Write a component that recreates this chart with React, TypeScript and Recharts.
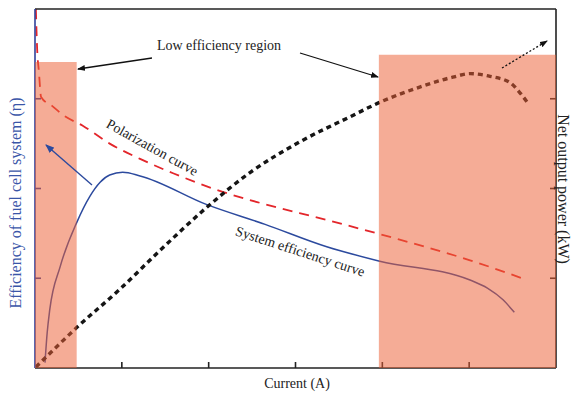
import React from "react";
import {
  LineChart,
  Line,
  XAxis,
  YAxis,
  ReferenceArea
} from "recharts";

// current (arbitrary units, axis 0..6) and curve values (axis 0..4)
const POL_I = [0.01, 0.025, 0.045, 0.07, 0.21, 0.32, 0.55, 0.86, 1.21, 1.59, 2.17, 2.59, 3.36, 4.2, 5.01, 5.61];
const POL_V = [4.0, 3.55, 3.3, 3.02, 2.91, 2.82, 2.7, 2.5, 2.33, 2.17, 1.96, 1.84, 1.65, 1.43, 1.2, 1.0];

const EFF_I = [0.115, 0.14, 0.17, 0.29, 0.48, 0.63, 0.75, 0.86, 1.01, 1.21, 1.98, 2.65, 3.36, 3.97, 5.01, 5.21, 5.39, 5.52];
const EFF_V = [0.06, 0.39, 0.65, 1.13, 1.62, 1.91, 2.07, 2.15, 2.18, 2.14, 1.82, 1.6, 1.35, 1.19, 0.98, 0.89, 0.76, 0.62];

const PWR_I = [0.01, 0.48, 0.98, 1.44, 1.99, 2.48, 3.05, 3.63, 3.97, 4.43, 4.81, 5.01, 5.24, 5.47, 5.59, 5.67];
const PWR_V = [0.01, 0.45, 0.88, 1.31, 1.8, 2.18, 2.52, 2.8, 2.96, 3.13, 3.24, 3.28, 3.25, 3.18, 3.06, 2.96];

const X_TICKS = [1, 2, 3, 4, 5];
const Y_TICKS = [1, 2, 3];

// low efficiency regions [from, to, top]
const LOW_LEFT = [0, 0.48, 3.41];
const LOW_RIGHT = [3.96, 6, 3.49];

const polarization = POL_I.map((x, i) => ({ x, y: POL_V[i] }));
const efficiency = EFF_I.map((x, i) => ({ x, y: EFF_V[i] }));
const power = PWR_I.map((x, i) => ({ x, y: PWR_V[i] }));

const FONT = "'Liberation Serif', 'DejaVu Serif', serif";
const BLUE = "#2c4a9e";
const AXIS_BLUE = "#30409a";
const noLabel = () => "";

// annotation layer drawn above the chart
const Notes = () => (
  <svg width={577} height={397} style={{ position: "absolute", left: 0, top: 0, pointerEvents: "none" }}>
    <defs>
      <marker id="headK" markerWidth="8" markerHeight="6" refX="7" refY="3" orient="auto" markerUnits="userSpaceOnUse">
        <path d="M0,0 L8,3 L0,6 Z" fill="#111" />
      </marker>
      <marker id="headB" markerWidth="9" markerHeight="7" refX="8" refY="3.5" orient="auto" markerUnits="userSpaceOnUse">
        <path d="M0,0 L9,3.5 L0,7 Z" fill={BLUE} />
      </marker>
    </defs>
    <g style={{ fontFamily: FONT, fontSize: 14 }} fill="#222">
      <text x={219} y={50} textAnchor="middle">Low efficiency region</text>
      <line x1={152} y1={58} x2={78} y2={69} stroke="#111" strokeWidth={1.3} markerEnd="url(#headK)" />
      <line x1={300} y1={53} x2={378} y2={77} stroke="#111" strokeWidth={1.3} markerEnd="url(#headK)" />
      <line x1={92} y1={185} x2={46} y2={145} stroke={BLUE} strokeWidth={1.4} markerEnd="url(#headB)" />
      <line x1={502} y1={68} x2={547} y2={41} stroke="#111" strokeWidth={1.3} strokeDasharray="2 2" markerEnd="url(#headK)" />
      <text x={152} y={152} textAnchor="middle" transform="rotate(29 152 148)">Polarization curve</text>
      <text x={300} y={256} textAnchor="middle" transform="rotate(18 300 252)">System efficiency curve</text>
      <text x={297} y={388} textAnchor="middle">Current (A)</text>
      <text x={16} y={208} textAnchor="middle" fill="#3a56a8" fontSize={16} transform="rotate(-90 16 203)">
        Efficiency of fuel cell system (η)
      </text>
      <text x={563} y={194} textAnchor="middle" fontSize={16} transform="rotate(90 563 189)">Net output power (kW)</text>
    </g>
  </svg>
);

export default function App() {
  return (
    <div style={{ position: "fixed", left: 0, top: 0, width: 577, height: 397, background: "#fff" }}>
      <LineChart width={577} height={397} margin={{ top: 8, right: 20, bottom: 28, left: 34 }}>
        <XAxis xAxisId="b" dataKey="x" type="number" domain={[0, 6]} ticks={X_TICKS} height={1}
          tickFormatter={noLabel} tickSize={-6} stroke="#222" strokeWidth={1.6} allowDataOverflow />
        <XAxis xAxisId="t" orientation="top" dataKey="x" type="number" domain={[0, 6]} ticks={X_TICKS} height={1}
          tickFormatter={noLabel} tickSize={-6} stroke="#222" strokeWidth={1.6} />
        <YAxis yAxisId="l" type="number" domain={[0, 4]} ticks={Y_TICKS} width={1}
          tickFormatter={noLabel} tickSize={-6} stroke={AXIS_BLUE} strokeWidth={1.6} allowDataOverflow />
        <YAxis yAxisId="r" orientation="right" type="number" domain={[0, 4]} ticks={Y_TICKS} width={1}
          tickFormatter={noLabel} tickSize={-6} stroke="#222" strokeWidth={1.6} allowDataOverflow />

        <Line xAxisId="b" yAxisId="l" data={polarization} dataKey="y" type="monotone" stroke="#e3262b"
          strokeWidth={1.8} strokeDasharray="10 7" dot={false} isAnimationActive={false} />
        <Line xAxisId="b" yAxisId="l" data={efficiency} dataKey="y" type="monotone" stroke={BLUE}
          strokeWidth={1.5} dot={false} isAnimationActive={false} />
        <Line xAxisId="b" yAxisId="r" data={power} dataKey="y" type="monotone" stroke="#151515"
          strokeWidth={3.4} strokeDasharray="5 4" dot={false} isAnimationActive={false} />

        <ReferenceArea xAxisId="b" yAxisId="l" x1={LOW_LEFT[0]} x2={LOW_LEFT[1]} y1={0} y2={LOW_LEFT[2]}
          fill="#ec6036" fillOpacity={0.52} stroke="none" zIndex={1000} />
        <ReferenceArea xAxisId="b" yAxisId="l" x1={LOW_RIGHT[0]} x2={LOW_RIGHT[1]} y1={0} y2={LOW_RIGHT[2]}
          fill="#ec6036" fillOpacity={0.52} stroke="none" zIndex={1000} />
      </LineChart>
      <Notes />
    </div>
  );
}
